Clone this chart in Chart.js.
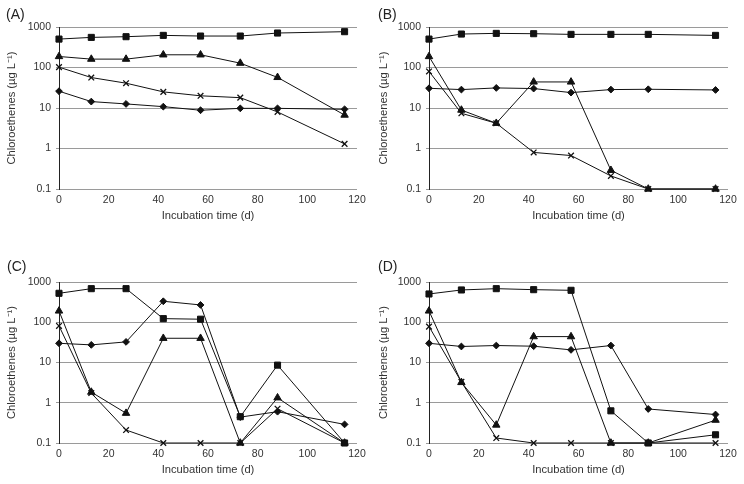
<!DOCTYPE html>
<html>
<head>
<meta charset="utf-8">
<script src="https://cdn.jsdelivr.net/npm/chart.js@4"></script>
<style>
  body { margin: 0; background: #fff; }
  #wrap { position: relative; width: 744px; height: 484px; font-family: "Liberation Sans", Arial, sans-serif; }
  canvas { position: absolute; }
  .lbl { position: absolute; font-size: 14px; color: #222; }
</style>
</head>
<body>
<div id="wrap">
  <canvas id="cA" width="372" height="242" style="left:0;top:0"></canvas>
  <canvas id="cB" width="372" height="242" style="left:372px;top:0"></canvas>
  <canvas id="cC" width="372" height="242" style="left:0;top:242px"></canvas>
  <canvas id="cD" width="372" height="242" style="left:372px;top:242px"></canvas>
  <div class="lbl" style="left:6px;top:6px">(A)</div>
  <div class="lbl" style="left:378px;top:6px">(B)</div>
  <div class="lbl" style="left:7px;top:258px">(C)</div>
  <div class="lbl" style="left:378px;top:258px">(D)</div>
</div>
<script>
// sampling days
var days = [0, 13, 27, 42, 57, 73, 88, 115];
var yTicks = [0.1, 1, 10, 100, 1000];
var xTitle = "Incubation time (d)";
var yTitle = "Chloroethenes (\u00b5g L\u207b\u00b9)";

// (A)
var aSquare = [503, 554, 576, 621, 598, 598, 710, 766];
var aDiamond = [26, 14.4, 12.6, 10.8, 8.8, 9.8, 9.8, 9.3];
var aTriangle = [187, 161, 161, 206, 206, 128, 57, 6.7];
var aCross = [102, 56.5, 41, 25, 20, 18, 8, 1.3];

// (B)
var bSquare = [503, 670, 696, 683, 658, 658, 658, 621];
var bDiamond = [30.7, 28.5, 31.3, 30.2, 24, 28.5, 29, 27.9];
var bTriangle = [187, 8.9, 4.2, 44, 44, 0.29, 0.1, 0.1];
var bCross = [80, 7.4, 4.2, 0.8, 0.67, 0.21, 0.1, 0.1];

// (C)
var cSquare = [524, 683, 683, 123, 119, 0.45, 8.6, 0.1];
var cDiamond = [30, 27.4, 32.5, 332, 269, 0.44, 0.6, 0.29];
var cTriangle = [191, 1.84, 0.55, 40, 40, 0.1, 1.33, 0.1];
var cCross = [81, 1.74, 0.21, 0.1, 0.1, 0.1, 0.71, 0.1];

// (D)
var dSquare = [504, 634, 683, 645, 622, 0.63, 0.1, 0.16];
var dDiamond = [30, 25, 26.4, 25.4, 20.6, 26.4, 0.7, 0.51];
var dTriangle = [191, 3.2, 0.28, 44, 44, 0.1, 0.1, 0.37];
var dCross = [78, 3.3, 0.133, 0.1, 0.1, 0.1, 0.1, 0.1];

function pts(vals) {
  return vals.map(function (v, i) { return { x: days[i], y: v }; });
}

function ds(vals, style, r) {
  return {
    data: pts(vals),
    borderColor: "#111",
    borderWidth: 1,
    backgroundColor: "#111",
    pointStyle: style,
    pointRadius: r,
    pointBorderWidth: style == "crossRot" ? 1.3 : 1,
    pointBorderColor: "#111",
    pointBackgroundColor: "#111",
    lineTension: 0,
    clip: false,
  };
}

var font = { family: "'Liberation Sans', Arial, sans-serif", size: 10.5 };
var titleFont = { family: "'Liberation Sans', Arial, sans-serif", size: 11.2 };

function makeChart(id, series, area) {
  var H = 242;
  new Chart(document.getElementById(id), {
    type: "line",
    data: {
      datasets: [
        ds(series[0], "rect", 4.3),
        ds(series[1], "rectRot", 3.4),
        ds(series[2], "triangle", 4.3),
        ds(series[3], "crossRot", 4),
      ],
    },
    options: {
      responsive: false,
      animation: false,
      devicePixelRatio: 1,
      layout: {
        padding: { left: 5, right: 372 - area.right, top: area.top, bottom: H - area.bottom - 34 },
      },
      plugins: { legend: { display: false }, tooltip: { enabled: false } },
      scales: {
        x: {
          type: "linear",
          min: 0,
          max: 120,
          ticks: { stepSize: 20, color: "#333", font: font, padding: 5, maxRotation: 0 },
          grid: { display: false, drawTicks: false },
          border: { display: false },
          title: { display: true, text: xTitle, color: "#333", font: titleFont, padding: 0 },
          afterFit: function (s) { s.height = 34; },
        },
        y: {
          type: "logarithmic",
          min: 0.1,
          max: 1000,
          afterBuildTicks: function (s) {
            s.ticks = yTicks.map(function (v) { return { value: v }; });
          },
          ticks: {
            color: "#333",
            font: font,
            padding: 5,
            callback: function (v) { return String(v); },
          },
          grid: { color: "#9a9a9a", lineWidth: 1, drawTicks: true, tickLength: 3 },
          border: { display: true, color: "#222", width: 1 },
          title: { display: true, text: yTitle, color: "#333", font: titleFont, padding: 0 },
          afterFit: function (s) { s.width = area.left - 5; },
        },
      },
    },
  });
}

makeChart("cA", [aSquare, aDiamond, aTriangle, aCross], { left: 59, right: 357, top: 27, bottom: 189 });
makeChart("cB", [bSquare, bDiamond, bTriangle, bCross], { left: 57, right: 356, top: 27, bottom: 189 });
makeChart("cC", [cSquare, cDiamond, cTriangle, cCross], { left: 59, right: 357, top: 40, bottom: 201 });
makeChart("cD", [dSquare, dDiamond, dTriangle, dCross], { left: 57, right: 356, top: 40, bottom: 201 });
</script>
</body>
</html>
